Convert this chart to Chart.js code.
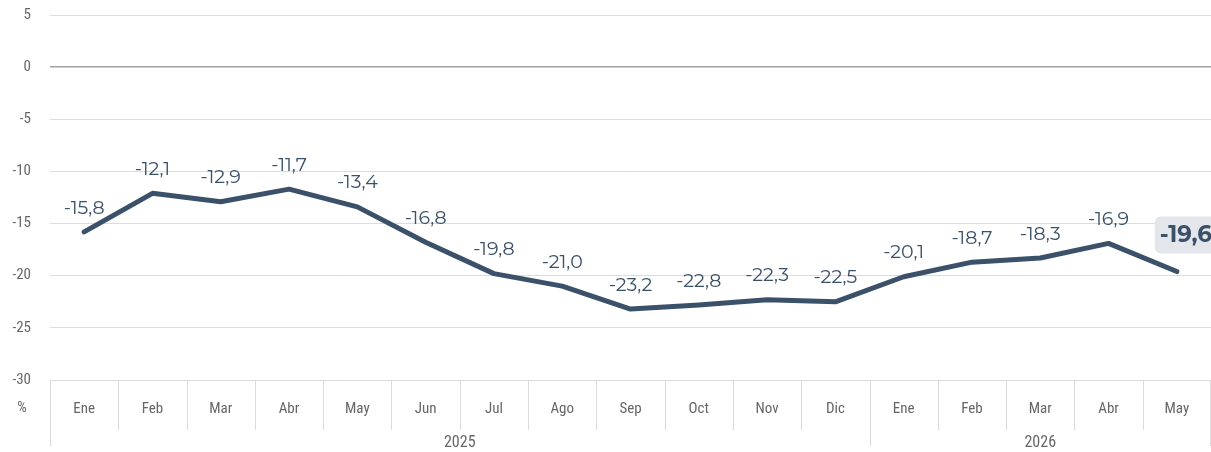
<!DOCTYPE html>
<html>
<head>
<meta charset="utf-8">
<script src="https://cdn.jsdelivr.net/npm/chart.js@4.4.0/dist/chart.umd.min.js"></script>
<style>
  html, body { margin: 0; padding: 0; background: #fff; }
  #wrap { width: 1211px; height: 452px; }
</style>
</head>
<body>
<div id="wrap"><canvas id="chart"></canvas></div>
<script>
// datos del gráfico
const months = ['Ene', 'Feb', 'Mar', 'Abr', 'May', 'Jun', 'Jul', 'Ago', 'Sep', 'Oct', 'Nov', 'Dic', 'Ene', 'Feb', 'Mar', 'Abr', 'May'];
const values = [-15.8, -12.1, -12.9, -11.7, -13.4, -16.8, -19.8, -21.0, -23.2, -22.8, -22.3, -22.5, -20.1, -18.7, -18.3, -16.9, -19.6];
const years = ['2025', '2026'];
const yearCounts = [12, 5];
const yTicks = [5, 0, -5, -10, -15, -20, -25, -30];

const lineColor = '#3b5069';
const labelFont = '"Montserrat", "Noto Sans", sans-serif';
const axisFont = '"Liberation Sans Narrow", "Roboto Condensed", Roboto, sans-serif';

function fmt(v) {
    return v.toFixed(1).replace('.', ',');
}

// etiquetas de datos, eje Y y eje de años
const extras = {
    id: 'extras',
    afterDatasetsDraw(chart) {
        const ctx = chart.ctx;
        const meta = chart.getDatasetMeta(0);
        const last = values.length - 1;
        ctx.save();
        ctx.textAlign = 'center';
        ctx.textBaseline = 'middle';
        meta.data.forEach((pt, i) => {
            const txt = fmt(values[i]);
            if (i === last) {
                // último valor resaltado
                ctx.font = 'bold 23px ' + labelFont;
                const w = ctx.measureText(txt).width;
                const cx = pt.x + 9, cy = pt.y - 37;
                ctx.fillStyle = '#e3e6ea';
                ctx.beginPath();
                ctx.roundRect(cx - w / 2 - 5, cy - 18, w + 14, 37, 6);
                ctx.fill();
                ctx.fillStyle = lineColor;
                ctx.fillText(txt, cx, cy + 1);
            } else {
                ctx.font = '19px ' + labelFont;
                ctx.fillStyle = lineColor;
                ctx.fillText(txt, pt.x, pt.y - 24);
            }
        });
        ctx.restore();
    },
    afterDraw(chart) {
        const ctx = chart.ctx;
        const area = chart.chartArea;
        const x = chart.scales.x;
        const y = chart.scales.y;
        const half = (x.getPixelForValue(1) - x.getPixelForValue(0)) / 2;
        ctx.save();
        // etiquetas del eje Y
        ctx.font = '15px ' + axisFont;
        ctx.fillStyle = '#666';
        ctx.textAlign = 'right';
        ctx.textBaseline = 'middle';
        yTicks.forEach(v => ctx.fillText(String(v), 31, y.getPixelForValue(v)));

        ctx.strokeStyle = '#dcdcdc';
        ctx.lineWidth = 1;
        // separadores de meses
        for (let i = 0; i <= months.length; i++) {
            const px = Math.round(x.getPixelForValue(i) - half) + 0.5;
            ctx.beginPath();
            ctx.moveTo(px, area.bottom);
            ctx.lineTo(px, area.bottom + 50);
            ctx.stroke();
        }
        // años
        let start = 0;
        ctx.font = '16px ' + axisFont;
        ctx.textAlign = 'center';
        years.forEach((yr, k) => {
            const end = start + yearCounts[k];
            const x0 = x.getPixelForValue(start) - half;
            const x1 = x.getPixelForValue(end - 1) + half;
            [x0, x1].forEach(p => {
                const px = Math.min(Math.round(p), chart.width - 1) + 0.5;
                ctx.beginPath();
                ctx.moveTo(px, area.bottom);
                ctx.lineTo(px, area.bottom + 66);
                ctx.stroke();
            });
            ctx.fillText(yr, (x0 + x1) / 2, area.bottom + 63);
            start = end;
        });
        // unidad
        ctx.font = '15px ' + axisFont;
        ctx.fillText('%', 22, area.bottom + 28);
        ctx.restore();
    }
};

const ctx = document.getElementById('chart').getContext('2d');
new Chart(ctx, {
    type: 'line',
    data: {
        labels: months,
        datasets: [{
            data: values,
            borderColor: lineColor,
            borderWidth: 5,
            pointRadius: 0,
            tension: 0,
            fill: false,
            borderCapStyle: 'round',
            borderJoinStyle: 'round'
        }]
    },
    options: {
        responsive: true,
        maintainAspectRatio: false,
        animation: false,
        layout: { padding: { top: 15, right: 0, left: 0, bottom: 0 } },
        plugins: {
            legend: { display: false },
            tooltip: { enabled: false }
        },
        scales: {
            x: {
                offset: true,
                grid: { display: false, drawTicks: false },
                border: { display: false },
                ticks: {
                    color: '#666',
                    font: { family: axisFont, size: 15 },
                    padding: 20,
                    maxRotation: 0,
                    autoSkip: false
                },
                afterFit(s) { s.height = 72; }
            },
            y: {
                min: -30,
                max: 5,
                afterBuildTicks(s) { s.ticks = yTicks.map(v => ({ value: v })); },
                grid: {
                    drawTicks: false,
                    color: c => c.tick.value === 0 ? '#a0a0a0' : '#dcdcdc',
                    lineWidth: c => c.tick.value === 0 ? 1.5 : 1
                },
                border: { display: false },
                ticks: { display: false },
                afterFit(s) { s.width = 50; }
            }
        }
    },
    plugins: [extras]
});
</script>
</body>
</html>
